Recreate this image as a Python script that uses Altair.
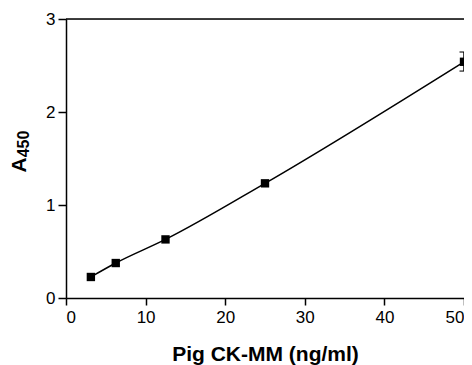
import altair as alt
import pandas as pd

conc = [3.125, 6.25, 12.5, 25, 50]
a450 = [0.226, 0.376, 0.63, 1.233, 2.54]
err_x = [50]
err_lo = [2.44]
err_hi = [2.645]
x_ticks = [0, 10, 20, 30, 40, 50]
y_ticks = [0, 1, 2, 3]
x_title = "Pig CK-MM (ng/ml)"
y_title_main = ["A"]
y_title_sub = ["450"]

FONT = "Liberation Sans"
W, H = 398, 279
df = pd.DataFrame({"x": conc, "y": a450})
edf = pd.DataFrame({"x": err_x, "lo": err_lo, "hi": err_hi})

xs = alt.Scale(domain=[0, 50], nice=False, zero=False)
ys = alt.Scale(domain=[0, 3], nice=False)

xax = alt.Axis(values=x_ticks, title=x_title, grid=False, tickSize=7, labelPadding=4,
               labelFontSize=17, titleFontSize=21, titleFontWeight="bold",
               titlePadding=18, domainColor="black", tickColor="black", format="d",
               labelColor="black", titleColor="black", domainWidth=1.5, tickWidth=1.5,
               labelFont=FONT, titleFont=FONT, titleAnchor="middle")
yax = alt.Axis(values=y_ticks, title=None, grid=False, tickSize=8, labelPadding=3,
               labelFontSize=17, domainColor="black", tickColor="black", format="d",
               labelColor="black", domainWidth=1.5, tickWidth=1.5, labelFont=FONT)

base = alt.Chart(df)
line = base.mark_line(color="black", strokeWidth=1.5, interpolate="monotone").encode(
    x=alt.X("x:Q", scale=xs, axis=xax), y=alt.Y("y:Q", scale=ys, axis=yax))
pts = base.mark_square(color="black", size=70, opacity=1).encode(x="x:Q", y="y:Q")

ebar = alt.Chart(edf).mark_rule(color="black", strokeWidth=1.5).encode(
    x="x:Q", y="lo:Q", y2="hi:Q")
cap_lo = alt.Chart(edf).mark_tick(color="black", orient="horizontal", size=9, thickness=1.5).encode(
    x="x:Q", y="lo:Q")
cap_hi = alt.Chart(edf).mark_tick(color="black", orient="horizontal", size=9, thickness=1.5).encode(
    x="x:Q", y="hi:Q")

top = alt.Chart(pd.DataFrame({"y": [3]})).mark_rule(color="black", strokeWidth=1.5).encode(
    y="y:Q", x=alt.value(0), x2=alt.value(W))

t_main = alt.Chart(pd.DataFrame({"t": y_title_main})).mark_text(
    angle=270, font=FONT, fontSize=21, fontWeight="bold", color="black",
    align="center", baseline="middle").encode(
    text="t:N", x=alt.value(-46), y=alt.value(146))
t_sub = alt.Chart(pd.DataFrame({"t": y_title_sub})).mark_text(
    angle=270, font=FONT, fontSize=16, fontWeight="bold", color="black",
    align="center", baseline="middle").encode(
    text="t:N", x=alt.value(-42), y=alt.value(125))

chart = alt.layer(top, line, ebar, cap_lo, cap_hi, pts, t_main, t_sub).properties(
    width=W, height=H,
    autosize=alt.AutoSizeParams(type="none"),
    padding={"left": 58, "top": 11, "right": 0, "bottom": 67},
).configure_view(stroke=None).configure(background="white")

chart.save("out.html", embed_options={"renderer": "svg", "actions": False})
